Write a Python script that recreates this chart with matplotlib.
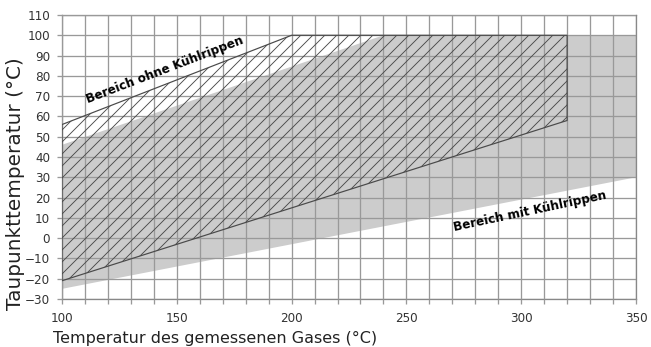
import matplotlib.pyplot as plt
from matplotlib.patches import Polygon
from matplotlib.ticker import MultipleLocator

# Bereich mit Kühlrippen (graue Fläche)
mit_x = [100, 240, 350, 350, 100]
mit_y = [46, 100, 100, 30, -25]

# Bereich ohne Kühlrippen (schraffiert)
ohne_x = [100, 320, 320, 200, 100]
ohne_y = [-21, 58, 100, 100, 56]

x_ticks = [100, 150, 200, 250, 300, 350]
y_ticks = list(range(-30, 111, 10))

plt.rcParams['font.family'] = ['DejaVu Sans']
plt.rcParams['hatch.linewidth'] = 0.9

dpi = 72
fig = plt.figure(figsize=(651 / dpi, 347 / dpi), dpi=dpi)
ax = fig.add_axes([0.0952, 0.1383, 0.8818, 0.8185])

ax.add_patch(Polygon(list(zip(mit_x, mit_y)), closed=True, facecolor="#cccccc",
                     edgecolor="none", zorder=0))
ax.add_patch(Polygon(list(zip(ohne_x, ohne_y)), closed=True, facecolor="none",
                     edgecolor="#4a4a4a", linewidth=1.2, hatch="//", zorder=3))

ax.set_xlim(100, 350)
ax.set_ylim(-30, 110)
ax.set_xticks(x_ticks)
ax.xaxis.set_minor_locator(MultipleLocator(10))
ax.set_yticks(y_ticks)
ax.grid(which="both", color="#999999", linewidth=1.3, zorder=1)
ax.set_axisbelow(False)
ax.tick_params(which="both", direction="out", length=5, width=1.3, color="#999999",
               labelcolor="#333333", labelsize=12, pad=7)
ax.tick_params(axis="x", which="major", pad=8)
for s in ax.spines.values():
    s.set_color("#888888")
    s.set_linewidth(1.3)

ax.set_xlabel("Temperatur des gemessenen Gases (°C)", fontsize=16, color="#222222",
              loc="left")
ax.xaxis.set_label_coords(-0.016, -0.112)
ax.set_ylabel("Taupunkttemperatur (°C)", fontsize=20, color="#222222",
              loc="bottom")
ax.yaxis.set_label_coords(-0.064, -0.04)

ax.text(145, 83, "Bereich ohne Kühlrippen", rotation=21, fontsize=12, fontweight="bold",
        ha="center", va="center", rotation_mode="anchor", zorder=5)
ax.text(304, 13, "Bereich mit Kühlrippen", rotation=12, fontsize=12, fontweight="bold",
        ha="center", va="center", rotation_mode="anchor", zorder=5)

fig.savefig("out.png", dpi=dpi)
